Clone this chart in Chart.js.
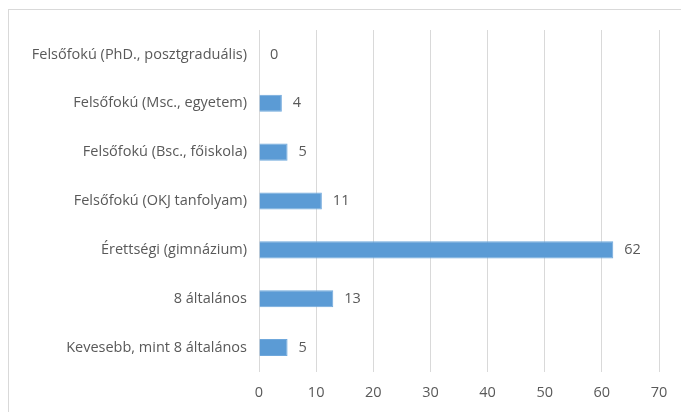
<!DOCTYPE html>
<html>
<head>
<meta charset="utf-8">
<script src="https://cdn.jsdelivr.net/npm/chart.js@4"></script>
<style>
  body { margin:0; background:#fff; }
  #wrap { position:relative; width:681px; height:412px; }
  #frame { position:absolute; left:8px; top:9px; width:700px; height:420px; border:1px solid #d9d9d9; }
  canvas { position:absolute; left:0; top:0; }
</style>
</head>
<body>
<div id="wrap">
  <div id="frame"></div>
  <canvas id="kep" width="681" height="412"></canvas>
</div>
<script>
var labels = ["Felsőfokú (PhD., posztgraduális)","Felsőfokú (Msc., egyetem)","Felsőfokú (Bsc., főiskola)","Felsőfokú (OKJ tanfolyam)","Érettségi (gimnázium)","8 általános","Kevesebb, mint 8 általános"];
var values = [0,4,5,11,62,13,5];
var ticks = [0,10,20,30,40,50,60,70];

var fnt = "'Open Sans', sans-serif";

// ertekek kiirasa a savok vegere
var ertekek = {
  id: "ertekek",
  afterDatasetsDraw: function(chart){
    var ctx = chart.ctx;
    var meta = chart.getDatasetMeta(0);
    ctx.save();
    ctx.fillStyle = "#595959";
    ctx.font = "14.5px " + fnt;
    ctx.textBaseline = "middle";
    ctx.textAlign = "left";
    meta.data.forEach(function(bar, i){
      ctx.fillText(values[i], bar.x + 11, bar.y);
    });
    ctx.restore();
  }
};

var kep = document.getElementById("kep").getContext('2d');
var chart = new Chart(kep, {
  type: "bar",
  data: {
    labels: labels,
    datasets: [{
      data: values,
      backgroundColor: "#5b9bd5",
      borderColor: "#6fa8dc",
      borderWidth: 1,
      barPercentage: 0.5,
      categoryPercentage: 0.7
    }]
  },
  options: {
    indexAxis: "y",
    responsive: false,
    animation: false,
    layout: { padding: { top: 30, right: 22, left: 0, bottom: 0 } },
    plugins: { legend: { display: false }, tooltip: { enabled: false } },
    scales: {
      x: {
        min: 0, max: 70,
        afterBuildTicks: function(s){ s.ticks = ticks.map(function(v){ return {value:v}; }); },
        afterFit: function(s){ s.height = 40; },
        grid: { color: "#d9d9d9", drawTicks: false },
        border: { display: false },
        ticks: { color: "#595959", font: { family: fnt, size: 14.5 }, padding: 12 }
      },
      y: {
        afterFit: function(s){ s.width = 259; },
        grid: { display: false, drawTicks: false },
        border: { display: false },
        ticks: { color: "#595959", font: { family: fnt, size: 14.5 }, padding: 12 }
      }
    }
  },
  plugins: [ertekek]
});
</script>
</body>
</html>
